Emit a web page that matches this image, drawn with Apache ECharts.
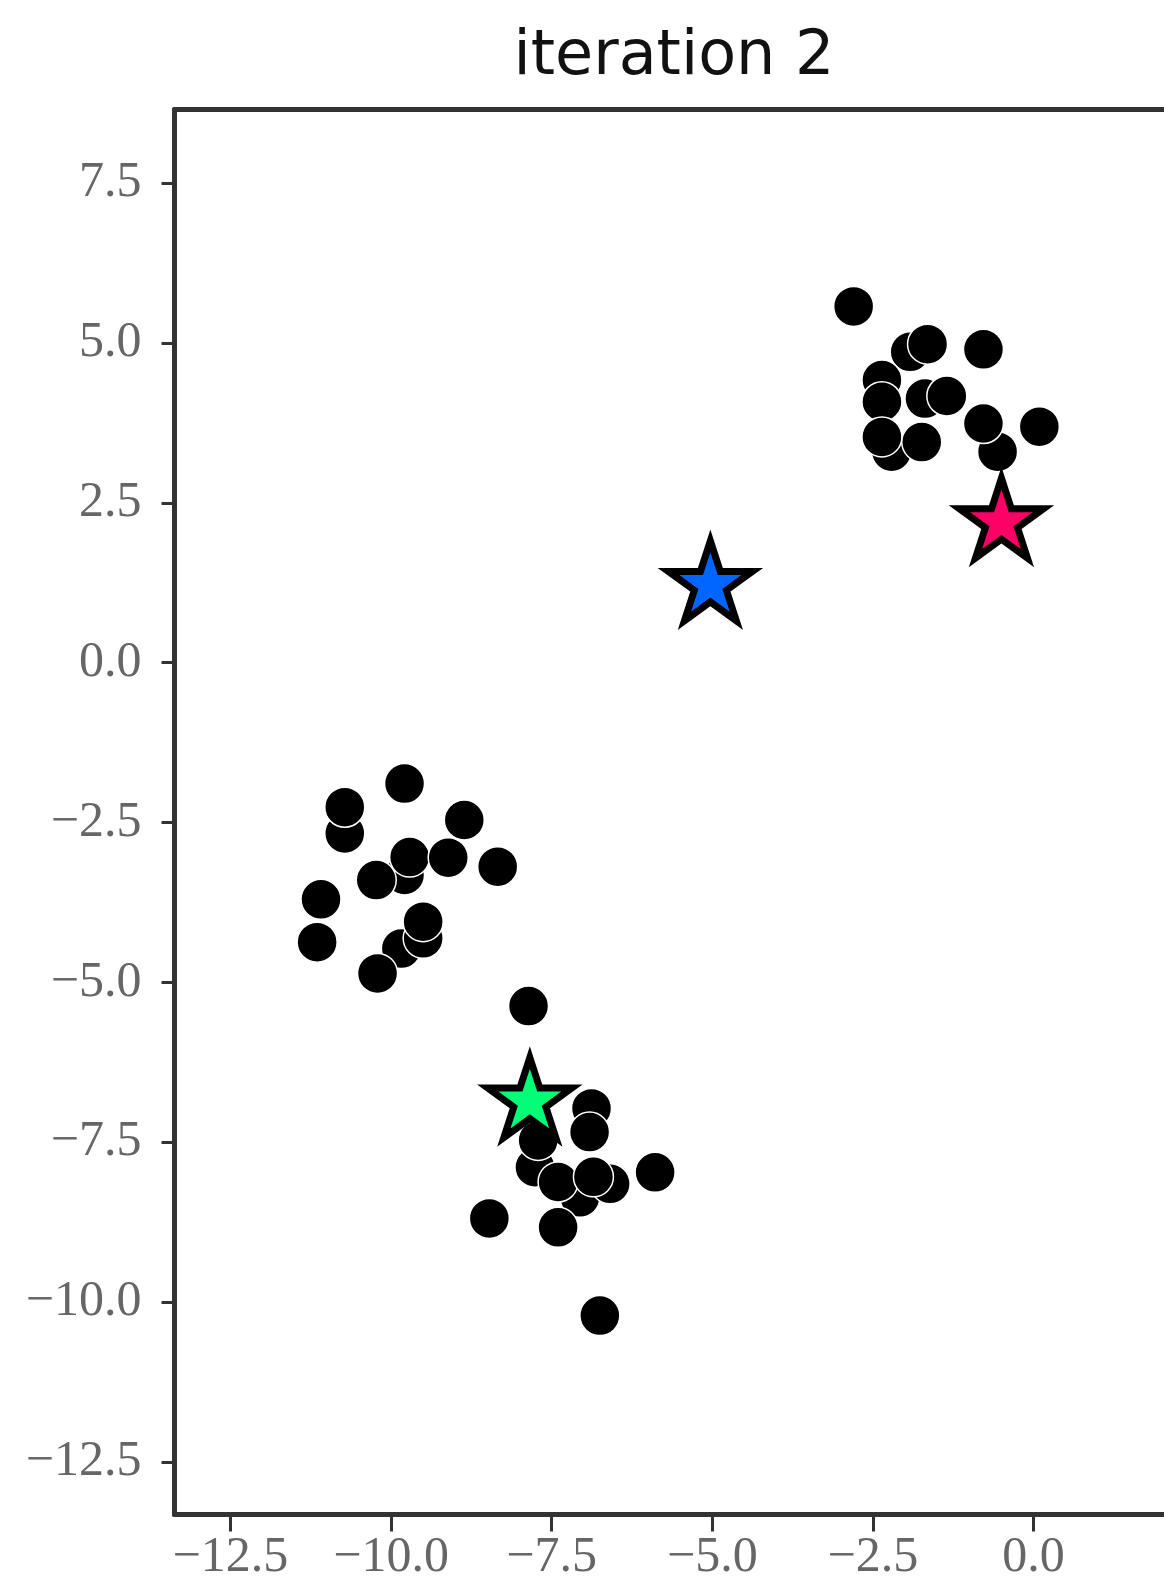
<!DOCTYPE html>
<html>
<head>
<meta charset="utf-8">
<script src="https://cdn.jsdelivr.net/npm/echarts@6/dist/echarts.min.js"></script>
<style>
html,body{margin:0;padding:0;background:#fff;}
#chart{width:1164px;height:1589px;}
</style>
</head>
<body>
<div id="chart"></div>
<script>
// ---- data ----
const titleText = 'iteration 2';
const xTicks = [-12.5, -10.0, -7.5, -5.0, -2.5, 0.0];
const yTicks = [7.5, 5.0, 2.5, 0.0, -2.5, -5.0, -7.5, -10.0, -12.5];

// cluster near (-1.5, 4)
const pointsX1 = [-2.80, -1.92, -2.21, -0.56, -1.69, -2.36, -2.36, -1.65, -0.78, -1.35, -0.78, 0.09, -2.36, -1.74];
const pointsY1 = [5.57, 4.86, 3.30, 3.30, 4.13, 4.42, 4.08, 4.98, 4.90, 4.17, 3.74, 3.69, 3.53, 3.45];
// cluster near (-10, -3.5)
const pointsX2 = [-10.72, -10.72, -9.79, -8.86, -9.79, -10.23, -9.71, -9.11, -8.34, -11.09, -9.84, -9.50, -9.50, -11.15, -10.21];
const pointsY2 = [-2.67, -2.26, -1.89, -2.46, -3.32, -3.40, -3.04, -3.05, -3.19, -3.70, -4.47, -4.31, -4.05, -4.37, -4.86];
// cluster near (-7.3, -8)
const pointsX3 = [-6.88, -7.76, -7.06, -6.59, -7.71, -6.91, -7.40, -6.85, -5.89, -8.47, -7.40, -7.86, -6.75];
const pointsY3 = [-6.97, -7.89, -8.36, -8.15, -7.47, -7.34, -8.12, -8.04, -7.97, -8.69, -8.83, -5.37, -10.21];

const centroidX = [-5.03, -0.50, -7.84];
const centroidY = [1.28, 2.26, -6.80];
const centroidColors = ['#0066ff', '#ff0066', '#00ff77'];

// ---- chart ----
const pointsX = pointsX1.concat(pointsX2, pointsX3);
const pointsY = pointsY1.concat(pointsY2, pointsY3);
const starPath = 'path://M100,0 L122.45,69.1 L195.1,69.1 L136.33,111.8 L158.8,180.9 L100,138.2 L41.2,180.9 L63.67,111.8 L4.9,69.1 L77.55,69.1 Z';
const fmt = v => (v < 0 ? '\u2212' : '') + Math.abs(v).toFixed(1);
const xMin = -13.37, xMax = 2.03, yMin = -13.32, yMax = 8.65;
const axisColor = '#333';

const chart = echarts.init(document.getElementById('chart'), null, {renderer: 'canvas'});
chart.setOption({
  backgroundColor: '#fff',
  animation: false,
  title: {
    text: titleText,
    left: 674, top: 27, padding: 0, textAlign: 'center',
    textStyle: {fontFamily: 'DejaVu Sans', fontSize: 62, fontWeight: 'normal', color: '#111'}
  },
  grid: {
    left: 174.5, top: 109.5, bottom: 74.5, right: 0,
    show: false, containLabel: false
  },
  xAxis: [{
    type: 'value', min: xMin, max: xMax, position: 'bottom',
    axisLine: {show: true, onZero: false, lineStyle: {color: axisColor, width: 5}},
    axisTick: {show: true, customValues: xTicks, length: 17, inside: false, lineStyle: {color: axisColor, width: 3}},
    axisLabel: {show: true, customValues: xTicks, formatter: fmt, margin: 18,
      fontFamily: 'Liberation Serif', fontSize: 50, color: '#666'},
    splitLine: {show: false}
  }, {
    type: 'value', min: xMin, max: xMax, position: 'top',
    axisLine: {show: true, onZero: false, lineStyle: {color: axisColor, width: 5}},
    axisTick: {show: false}, axisLabel: {show: false}, splitLine: {show: false}
  }],
  yAxis: {
    type: 'value', min: yMin, max: yMax,
    axisLine: {show: true, onZero: false, lineStyle: {color: axisColor, width: 5}},
    axisTick: {show: true, customValues: yTicks, length: 13, inside: false, lineStyle: {color: axisColor, width: 3}},
    axisLabel: {show: true, customValues: yTicks, formatter: fmt, margin: 33,
      fontFamily: 'Liberation Serif', fontSize: 50, color: '#666'},
    splitLine: {show: false}
  },
  series: [
    {
      type: 'scatter', xAxisIndex: 0,
      data: pointsX.map((x, i) => [x, pointsY[i]]),
      symbol: 'circle', symbolSize: 40,
      itemStyle: {color: '#000', borderColor: '#fff', borderWidth: 1.5, opacity: 1},
      z: 2
    },
    {
      type: 'scatter', xAxisIndex: 0,
      data: centroidX.map((x, i) => ({value: [x, centroidY[i]], itemStyle: {color: centroidColors[i]}})),
      symbol: starPath, symbolKeepAspect: true, symbolSize: 84,
      itemStyle: {borderColor: '#000', borderWidth: 7, opacity: 1},
      z: 3
    }
  ]
});
</script>
</body>
</html>
